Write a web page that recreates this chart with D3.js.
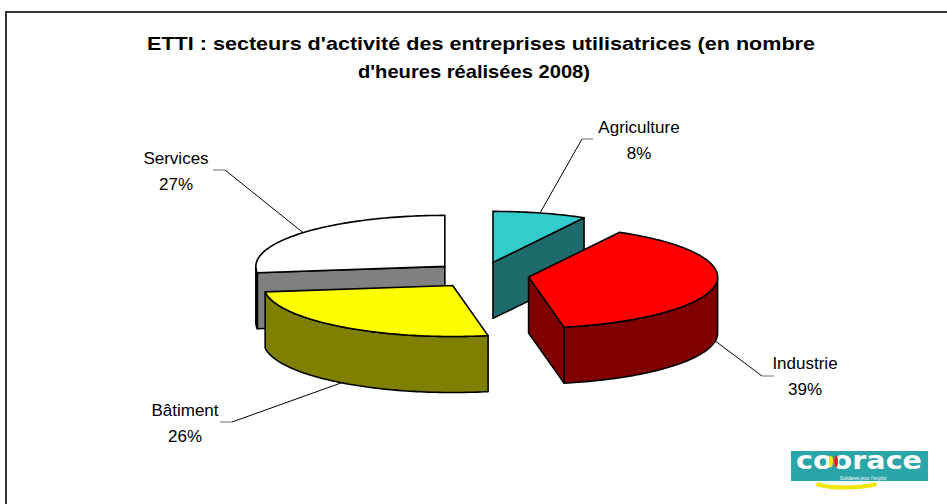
<!DOCTYPE html>
<html>
<head>
<meta charset="utf-8">
<script src="https://cdn.jsdelivr.net/npm/d3@7"></script>
<style>
  body { margin: 0; background: #fff; }
  text { font-family: "Liberation Sans", Arial, sans-serif; }
</style>
</head>
<body>
<div id="chart"></div>
<script>
// Data
var sectors = ["Agriculture", "Industrie", "Bâtiment", "Services"];
var shares = [8, 39, 26, 27];
var titleLines = ["ETTI : secteurs d'activité des entreprises utilisatrices (en nombre",
                  "d'heures réalisées 2008)"];

// Colours: top face / side face
var topColors = ["#33cccc", "#ff0000", "#ffff00", "#ffffff"];
var sideColors = ["#1e6b6b", "#800000", "#808000", "#808080"];

// Label placement (centre x, baseline of first line) and leader elbow
var labelLayout = {
  "Agriculture": {x: 639, y: 133, elbow: [[593, 139], [582, 139]]},
  "Industrie":   {x: 805, y: 369, elbow: [[774, 376], [762, 376]]},
  "Bâtiment":    {x: 185, y: 416, elbow: [[220, 422], [232, 422]]},
  "Services":    {x: 176, y: 164, elbow: [[213, 170], [225, 170]]}
};

var W = 947, H = 504;
var geo = {cx: 481, cy: 275, rx: 189, ry: 51, depth: 56, explode: 0.255};

var svg = d3.select("#chart").append("svg")
    .attr("width", W).attr("height", H);

// Frame
svg.append("rect")
    .attr("x", 6).attr("y", 12)
    .attr("width", W + 20).attr("height", H + 20)
    .attr("fill", "none").attr("stroke", "#333").attr("stroke-width", 2);

// Title (the original renders wider than Liberation Sans, so stretch to fit)
var titleWidths = [668, 232];
svg.append("g").selectAll("text")
    .data(titleLines).enter().append("text")
    .attr("x", function(d, i) { return i ? 474 : 481; })
    .attr("y", function(d, i) { return 50 + i * 28; })
    .attr("text-anchor", "middle")
    .attr("textLength", function(d, i) { return titleWidths[i]; })
    .attr("lengthAdjust", "spacingAndGlyphs")
    .style("font-size", "19px").style("font-weight", "bold")
    .text(function(d) { return d; });

var pie = d3.pie().sort(null).value(function(d) { return d; })
    .startAngle(0).endAngle(2 * Math.PI);
var arcs = pie(shares);

// pie angle -> projected ellipse point
function pt(c, a, z) {
    return [c[0] + geo.rx * Math.sin(a), c[1] - geo.ry * Math.cos(a) + (z || 0)];
}
function arcPoints(c, a0, a1, z) {
    var n = Math.max(2, Math.ceil(Math.abs(a1 - a0) / 0.02));
    return d3.range(n + 1).map(function(i) { return pt(c, a0 + (a1 - a0) * i / n, z); });
}
var line = d3.line();

var slices = arcs.map(function(a, i) {
    var mid = (a.startAngle + a.endAngle) / 2;
    var c = [geo.cx + geo.explode * geo.rx * Math.sin(mid),
             geo.cy - geo.explode * geo.ry * Math.cos(mid)];
    return {i: i, name: sectors[i], value: shares[i], a0: a.startAngle, a1: a.endAngle, mid: mid, c: c};
});

// Paint back to front
var order = [3, 0, 2, 1];
var pieG = svg.append("g")
    .attr("stroke", "#000").attr("stroke-width", 1.6).attr("stroke-linejoin", "round");

order.forEach(function(k) {
    var s = slices[k];
    var g = pieG.append("g");
    var d = geo.depth;
    // start radial face
    if (Math.sin(s.a0) < -1e-6) {
        g.append("path").attr("fill", sideColors[k])
            .attr("d", line([s.c, pt(s.c, s.a0), pt(s.c, s.a0, d), [s.c[0], s.c[1] + d]]) + "Z");
    }
    // end radial face
    if (Math.sin(s.a1) > 1e-6) {
        g.append("path").attr("fill", sideColors[k])
            .attr("d", line([s.c, pt(s.c, s.a1), pt(s.c, s.a1, d), [s.c[0], s.c[1] + d]]) + "Z");
    }
    // outer wall (front half only)
    var w0 = Math.max(s.a0, Math.PI / 2), w1 = Math.min(s.a1, 3 * Math.PI / 2);
    if (w1 > w0) {
        var pts = arcPoints(s.c, w0, w1, 0).concat(arcPoints(s.c, w1, w0, d));
        g.append("path").attr("fill", sideColors[k]).attr("d", line(pts) + "Z");
    }
    // top face
    var top = [s.c].concat(arcPoints(s.c, s.a0, s.a1, 0));
    g.append("path").attr("fill", topColors[k]).attr("d", line(top) + "Z");
});

// Labels and leader lines
var labG = svg.append("g");
slices.forEach(function(s) {
    var L = labelLayout[s.name];
    var front = Math.cos(s.mid) < 0;
    var end = pt(s.c, s.mid, front ? geo.depth : 0);
    labG.append("path")
        .attr("d", line([L.elbow[0], L.elbow[1]]))
        .attr("stroke", "#888").attr("stroke-width", 1.2).attr("fill", "none");
    labG.append("path")
        .attr("d", line([L.elbow[1], end]))
        .attr("stroke", "#000").attr("stroke-width", 1).attr("fill", "none");
    var t = labG.append("text")
        .attr("text-anchor", "middle")
        .style("font-size", "17px").attr("fill", "#000");
    t.append("tspan").attr("x", L.x).attr("y", L.y).text(s.name);
    t.append("tspan").attr("x", L.x).attr("y", L.y + 26).text(s.value + "%");
});

// Logo
var logo = svg.append("g").attr("transform", "translate(791,451)");
logo.append("rect").attr("width", 137).attr("height", 30).attr("fill", "#2aa5a8");
logo.append("path")
    .attr("d", "M27,33.5 C42,38 68,37 84,33.5")
    .attr("stroke", "#f5e60a").attr("stroke-width", 4).attr("fill", "none")
    .attr("stroke-linecap", "round");
logo.append("text")
    .attr("x", 68).attr("y", 18).attr("text-anchor", "middle")
    .style("font-size", "25px").style("font-weight", "bold")
    .style("font-family", "'DejaVu Sans', sans-serif")
    .attr("fill", "#fff").attr("textLength", 126).attr("lengthAdjust", "spacingAndGlyphs")
    .text("coorace");
logo.append("ellipse").attr("cx", 40).attr("cy", 10.5).attr("rx", 2).attr("ry", 6)
    .attr("fill", "#f5e60a");
logo.append("ellipse").attr("cx", 45).attr("cy", 10.5).attr("rx", 2).attr("ry", 6)
    .attr("fill", "#e8201a");
logo.append("text")
    .attr("x", 72).attr("y", 28.5).attr("text-anchor", "middle")
    .style("font-size", "4.5px").style("font-style", "italic")
    .attr("fill", "#fff")
    .text("Solidaires pour l'emploi");
</script>
</body>
</html>
